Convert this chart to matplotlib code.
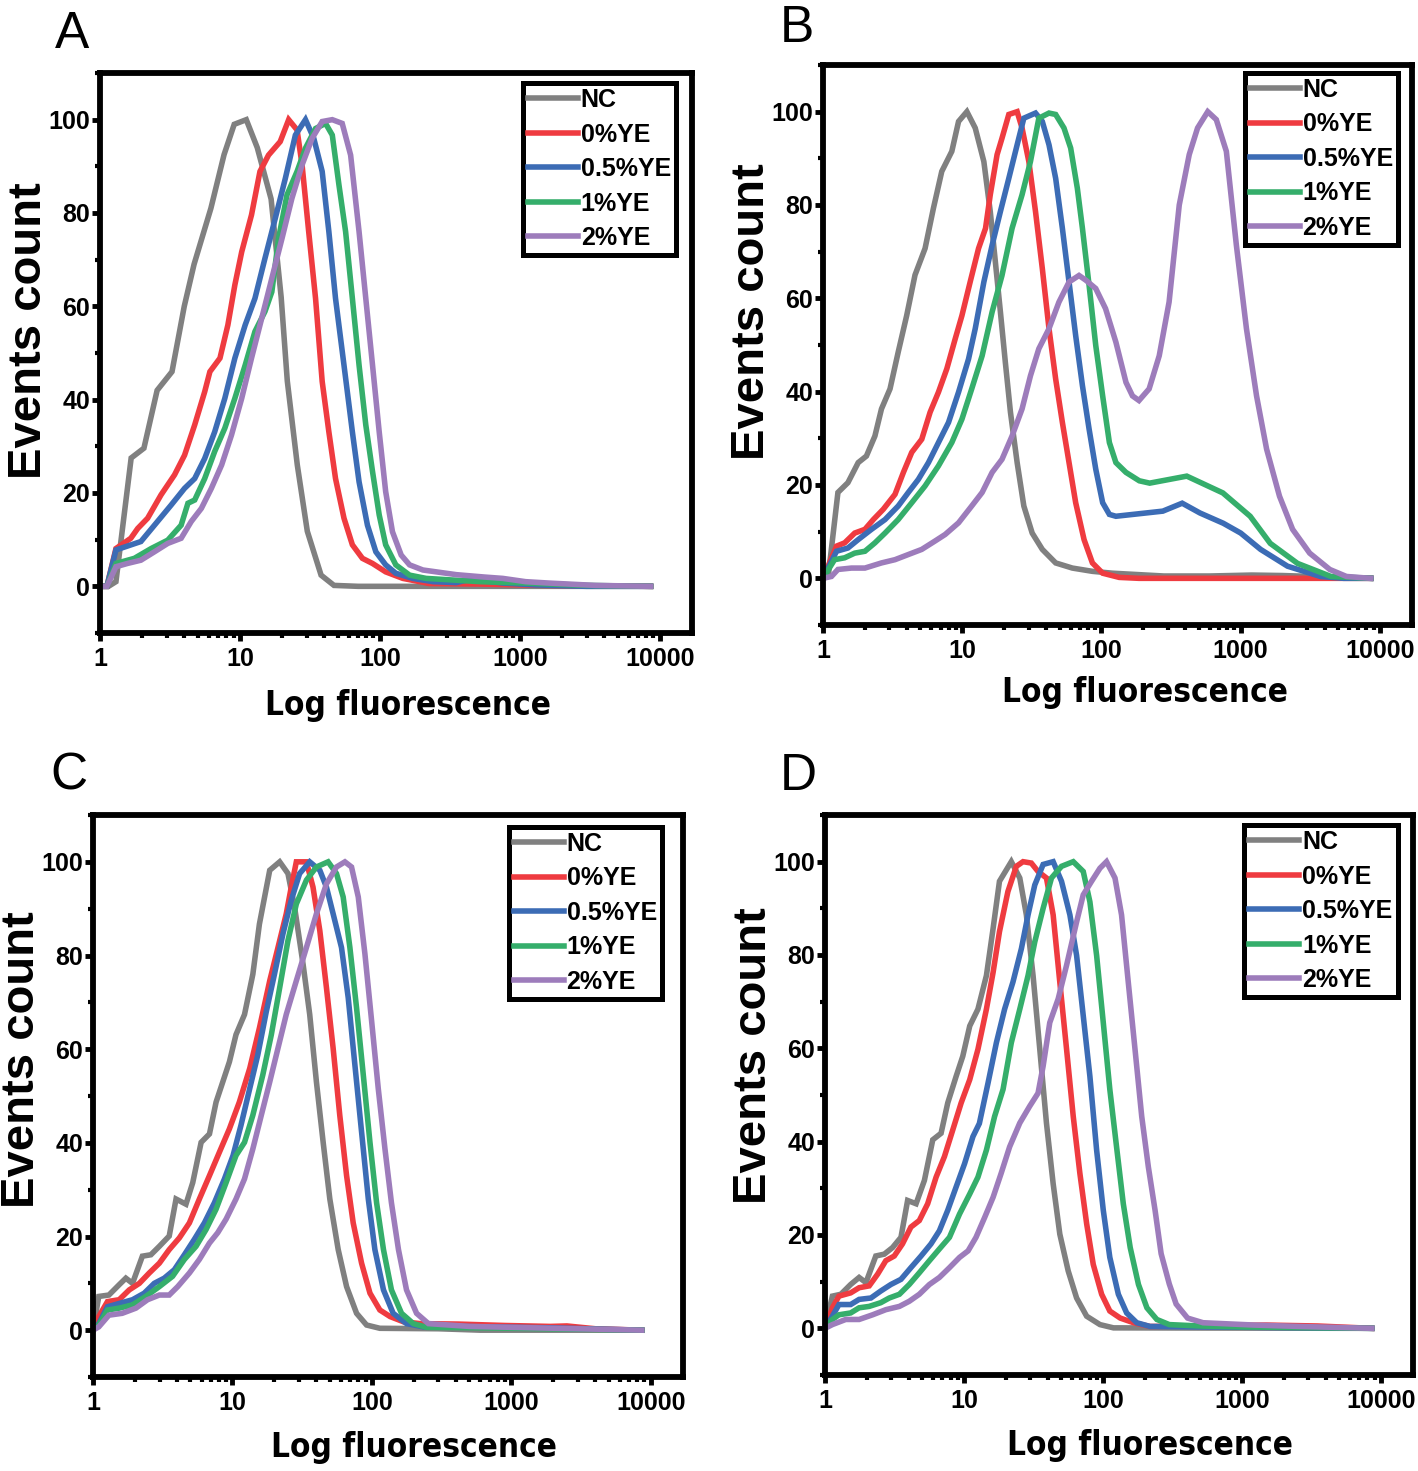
import matplotlib
matplotlib.use("Agg")
import matplotlib.pyplot as plt
from matplotlib import font_manager
from matplotlib.font_manager import FontProperties
from matplotlib.ticker import LogLocator, MultipleLocator, NullFormatter

SANS = "Liberation Sans"

# look for a narrow bold face for the x label, else use the normal bold one
narrow = None
for f in font_manager.fontManager.ttflist:
    cond = ("Narrow" in f.name or "Condensed" in f.name
            or f.stretch in ("condensed", "semi-condensed", "extra-condensed"))
    if cond and f.weight in (700, "bold") and f.style == "normal":
        if narrow is None or "Liberation" in f.name:
            narrow = f.fname

labels = ["NC", "0%YE", "0.5%YE", "1%YE", "2%YE"]
colors = ["#808080", "#EF3B40", "#3C6CB5", "#35AE6B", "#9D7CBB"]

xticks = [1, 10, 100, 1000, 10000]
xticklabels = ["1", "10", "100", "1000", "10000"]
yticks = [0, 20, 40, 60, 80, 100]

# ---- panel A ----
a_nc_x = [1, 1.15, 1.3, 1.67, 2.06, 2.56, 3.27, 4.0, 4.7, 6.2, 7.7, 9.1, 11.1, 13.3, 16.7, 19.7, 21.8, 25.7, 30.3, 38, 47, 70, 8600]
a_nc_y = [0, 0, 1, 27.5, 29.6, 42, 46, 60, 69, 81, 92.5, 99, 100, 94, 83, 62, 44, 26, 11.8, 2.4, 0.2, 0, 0]
a_0_x = [1, 1.12, 1.3, 1.66, 1.86, 2.19, 2.73, 3.41, 4.02, 4.75, 5.6, 6.1, 7.2, 8.2, 9.2, 10.3, 12.1, 13.9, 16, 19.4, 22.3, 25.6, 27.8, 31, 34.7, 38.7, 43.2, 48.2, 55.4, 63.6, 75, 88.6, 110, 146, 225, 500, 1500, 8600]
a_0_y = [0, 0, 8.1, 10.3, 12.4, 14.6, 19.6, 23.9, 28.1, 34.6, 41.7, 46, 48.9, 56, 64.6, 71.7, 79.6, 88.9, 92.4, 95.3, 100, 97.8, 90.3, 76, 61.7, 43.9, 33.1, 23.1, 14.6, 8.9, 6, 4.9, 3.1, 1.7, 0.6, 0.5, 0.2, 0]
a_05_x = [1, 1.12, 1.3, 1.96, 2.45, 3.22, 4.02, 4.75, 5.6, 6.6, 7.8, 9.2, 10.9, 12.8, 15.1, 17.9, 21.1, 24.9, 29.4, 33.7, 38.7, 43.2, 48.2, 55.4, 63.6, 71, 81.5, 93.6, 110, 130, 172, 240, 352, 441, 760, 1300, 3000, 8600]
a_05_y = [0, 0, 7.8, 9.6, 13.1, 17.4, 21, 23.1, 27.4, 33.1, 40.3, 48.9, 56, 61.7, 70.3, 78.9, 87.4, 96.7, 100, 96, 88.9, 76, 61.7, 47.4, 33.1, 22.4, 13.1, 7.4, 4.6, 2.8, 1.7, 1, 0.8, 1.5, 0.7, 0.3, 0, 0]
a_1_x = [1, 1.12, 1.3, 1.76, 2.32, 3.05, 3.8, 4.25, 4.75, 5.6, 6.6, 7.8, 9.2, 10.9, 12.8, 15.1, 16.9, 18.9, 21.7, 25.6, 29.4, 34.7, 40.9, 45.7, 51, 56.9, 63.6, 71, 79.3, 88.6, 98.9, 110, 130, 163, 214, 518, 1100, 3000, 8600]
a_1_y = [0, 0, 4.9, 6, 8.1, 9.9, 13.1, 17.8, 18.5, 23.1, 28.9, 33.9, 40.3, 47.4, 54.6, 58.9, 63.1, 74.6, 83.9, 88.9, 93.9, 98.1, 99.2, 96.7, 86, 76, 61.7, 47.4, 34.6, 24.6, 15.3, 8.9, 4.6, 2.4, 1.7, 1, 0.7, 0.2, 0]
a_2_x = [1, 1.12, 1.3, 1.57, 1.96, 2.45, 3.05, 3.8, 4.49, 5.3, 6.25, 7.4, 8.7, 10.3, 12.1, 14.3, 16.9, 20, 23.5, 27.8, 32.8, 38.7, 45.7, 53.8, 61.8, 71, 79.3, 88.6, 98.9, 110, 123, 142, 163, 203, 253, 352, 554, 756, 1100, 1615, 3470, 8600]
a_2_y = [0, 0, 4.2, 4.9, 5.6, 7.4, 9.2, 10.3, 13.9, 16.7, 21, 26, 32.4, 40.3, 48.9, 57.4, 66, 74.6, 83.1, 90.3, 96, 99.6, 100, 99.2, 92.4, 76, 61.7, 47.4, 33.1, 20.3, 11.7, 6.7, 4.6, 3.5, 3.1, 2.5, 2, 1.7, 1, 0.7, 0.2, 0]

# ---- panel B ----
b_nc_x = [1, 1.09, 1.28, 1.51, 1.79, 2.05, 2.36, 2.63, 3.03, 3.47, 3.99, 4.58, 5.41, 6.21, 7.13, 8.42, 9.41, 10.8, 12.4, 14.3, 15.9, 17.3, 18.8, 20.4, 22.2, 24.8, 27.7, 31.8, 37.6, 46.9, 61.8, 86.1, 120, 280, 600, 1200, 2000, 8600]
b_nc_y = [0, 0.4, 18.4, 20.5, 24.8, 26.2, 30.5, 36.3, 40.6, 48.5, 56.3, 65, 70.7, 79.3, 87.2, 91.5, 97.9, 100, 96.5, 89.3, 78.6, 67.8, 57.1, 46.3, 35.6, 24.8, 15.5, 9.7, 6.2, 3.3, 2.2, 1.5, 1.1, 0.5, 0.5, 0.7, 0.6, 0]
b_0_x = [1, 1.25, 1.43, 1.69, 2.0, 2.3, 2.71, 3.29, 3.78, 4.34, 5.12, 5.88, 6.75, 7.75, 8.9, 9.95, 11.4, 13.1, 14.7, 15.9, 17.8, 19.3, 21.6, 24.8, 26.9, 30.1, 33.6, 37.6, 42, 46.9, 52.4, 58.5, 65.3, 75, 86.1, 102, 134, 186, 8600]
b_0_y = [0, 6.9, 7.6, 9.7, 10.5, 12.6, 14.8, 18, 22.7, 27, 29.8, 35.6, 39.9, 44.9, 51.3, 56.3, 63.5, 70.7, 75, 82.2, 90.8, 94.3, 99.4, 100, 96.5, 89.3, 78.6, 66.4, 53.5, 42.7, 33.4, 24.8, 16.2, 8.3, 3.3, 1.1, 0.2, 0, 0]
b_05_x = [1, 1.25, 1.51, 1.79, 2.23, 2.79, 3.47, 4.1, 4.84, 5.72, 6.75, 7.97, 9.41, 11.1, 12.4, 14.3, 16.4, 18.8, 21.6, 24.8, 27.7, 33.6, 37.6, 42, 46.9, 52.4, 58.5, 65.3, 73, 81.5, 91, 102, 114, 127, 276, 380, 510, 750, 1000, 1390, 2170, 3740, 5500, 8600]
b_05_y = [0, 5.8, 6.5, 8.3, 10.5, 12.6, 15.5, 18.4, 21.2, 24.8, 29.1, 33.4, 39.9, 47, 53.5, 63.5, 71.4, 78.6, 85.7, 92.9, 98.6, 99.7, 97.9, 92.9, 85.7, 75, 63.5, 52, 41.3, 32, 23.4, 16.2, 13.7, 13.3, 14.4, 16.1, 14, 11.8, 9.7, 6.2, 2.6, 0.4, 0, 0]
b_1_x = [1, 1.21, 1.43, 1.69, 2.0, 2.36, 2.79, 3.47, 4.34, 5.41, 6.75, 8.42, 9.95, 11.7, 13.9, 16.4, 19.3, 22.8, 26.9, 30.9, 35.5, 42, 46.9, 53.8, 60.1, 67.1, 73, 81.5, 91, 102, 114, 127, 150, 187, 222, 410, 745, 1170, 1630, 2560, 4450, 8600]
b_1_y = [0, 4, 4.4, 5.4, 5.8, 7.6, 9.7, 12.6, 16.2, 19.8, 24.1, 29.1, 34.1, 40.6, 47.7, 57.1, 64.9, 75, 82.2, 89.3, 98.6, 99.7, 99.4, 96.5, 92.2, 83.6, 75, 62.8, 49.9, 39.1, 29.1, 24.8, 22.7, 20.9, 20.4, 21.9, 18.3, 13.3, 7.5, 3.2, 0.4, 0]
b_2_x = [1, 1.15, 1.28, 1.6, 2.0, 2.63, 3.29, 4.1, 5.12, 6.38, 7.54, 9.41, 11.7, 13.9, 16.4, 19.3, 22.8, 26.9, 30.9, 35.5, 42, 49.5, 58.5, 69, 77.1, 91, 107, 127, 150, 167, 186, 220, 260, 306, 362, 427, 490, 580, 668, 789, 931, 1100, 1300, 1535, 1900, 2360, 3130, 4365, 5750, 8600]
b_2_y = [0, 0.4, 1.9, 2.2, 2.2, 3.3, 4, 5.1, 6.2, 8, 9.4, 11.9, 15.5, 18.4, 22.7, 25.5, 30.5, 36.3, 43.4, 49.2, 53.5, 59.2, 63.5, 64.9, 63.9, 62.1, 57.8, 50.6, 42, 39.1, 38.1, 40.6, 47.7, 59.2, 80, 90.8, 96.5, 100, 98.3, 91.5, 71.4, 53.5, 39.1, 27.7, 17.6, 10.5, 5.4, 1.9, 0.4, 0]

# ---- panel C ----
c_nc_x = [1, 1.1, 1.3, 1.54, 1.72, 1.92, 2.26, 2.6, 2.99, 3.52, 3.94, 4.64, 5.19, 5.96, 6.84, 7.63, 8.52, 9.51, 10.6, 12.2, 14, 15.6, 18.5, 21.8, 25, 27.9, 32.1, 35.8, 40, 44.7, 49.9, 57.3, 65.8, 77.6, 91.5, 114, 300, 600, 8600]
c_nc_y = [0, 7.2, 7.5, 9.7, 11.1, 10, 15.8, 16.1, 17.9, 20.1, 28, 26.9, 31.5, 40.1, 41.9, 48.7, 53, 57.3, 63.1, 67.4, 76, 86.7, 98.2, 100, 97.5, 90.3, 78.1, 67.4, 53, 40.1, 28, 17.2, 9.3, 3.6, 1.1, 0.4, 0.3, 0, 0]
c_0_x = [1, 1.1, 1.27, 1.54, 1.82, 2.15, 2.53, 2.99, 3.52, 4.16, 4.91, 5.79, 6.84, 8.06, 9.51, 11.2, 13.3, 15.6, 18.5, 21.2, 24.3, 26.4, 28.7, 33.9, 37.8, 42.3, 47.2, 52.7, 58.8, 65.8, 73.4, 84.3, 96.8, 114, 135, 168, 221, 418, 900, 1900, 2500, 4000, 8600]
c_0_y = [0, 2.9, 6.1, 6.5, 8.6, 10, 12.2, 14.3, 17.2, 19.7, 22.9, 28, 33, 38, 43, 48.7, 55.9, 64.5, 74.6, 81.7, 88.9, 94.6, 100, 100, 94.6, 85.3, 73.1, 60.2, 45.9, 33, 22.9, 14.3, 7.9, 4.3, 2.9, 1.8, 1.4, 1.3, 1, 0.8, 0.9, 0.3, 0]
c_05_x = [1, 1.1, 1.27, 1.54, 1.92, 2.33, 2.75, 3.24, 3.83, 4.52, 5.33, 6.29, 7.42, 8.76, 10.1, 11.5, 13.3, 15.2, 17.5, 20, 23, 26.4, 30.3, 35.8, 42.3, 47.2, 52.7, 60.5, 67.6, 75.5, 84.3, 94.2, 105, 121, 142, 177, 234, 418, 1900, 8600]
c_05_y = [0, 1.4, 5, 5.7, 6.5, 7.9, 10, 11.1, 12.9, 16.1, 19.4, 22.9, 27.2, 32.3, 37.3, 43.7, 51.6, 58.8, 68.1, 76, 84.6, 91.8, 97.5, 100, 98.2, 94.6, 88.9, 81.7, 71, 56.6, 42.3, 28, 17.2, 8.6, 3.6, 1.4, 0.7, 0.8, 0.5, 0]
c_1_x = [1, 1.1, 1.27, 1.54, 1.92, 2.39, 2.99, 3.72, 4.52, 5.48, 6.47, 7.62, 9.0, 10.6, 12.2, 14, 16.5, 19, 21.8, 25, 28.7, 33.9, 40, 48.5, 55.7, 62.2, 69.5, 77.6, 86.7, 96.8, 108, 121, 138, 163, 198, 247, 600, 8600]
c_1_y = [0, 1.1, 4.3, 4.7, 5.4, 7.2, 9.3, 11.5, 15.1, 17.9, 21.5, 25.8, 31.5, 37.3, 40.1, 45.9, 54.5, 63.1, 73.1, 83.2, 91, 96.1, 98.9, 100, 97.5, 92.5, 81.7, 68.8, 54.5, 40.1, 27.2, 17.2, 8.6, 3.6, 1.4, 0.6, 0.5, 0]
c_2_x = [1, 1.1, 1.3, 1.62, 2.03, 2.46, 2.99, 3.52, 4.05, 4.91, 5.79, 6.84, 7.84, 9.0, 10.6, 12.2, 14, 16.1, 18.5, 21.2, 24.3, 28.7, 33.9, 40, 47.2, 55.7, 64, 71.4, 79.8, 89.1, 99.5, 111, 124, 138, 155, 177, 209, 254, 500, 8600]
c_2_y = [0, 0.7, 3.2, 3.6, 4.7, 6.5, 7.5, 7.5, 9.3, 12.2, 15.1, 18.6, 20.8, 23.7, 28, 32.3, 38.7, 45.9, 53, 60.2, 67.4, 74.6, 81.7, 88.9, 95.3, 98.9, 100, 98.9, 92.5, 80.3, 66, 51.6, 38.7, 27.2, 17.2, 8.6, 3.6, 1.4, 0.8, 0]

# ---- panel D ----
d_nc_x = [1, 1.13, 1.3, 1.53, 1.76, 1.97, 2.32, 2.67, 3.06, 3.52, 3.93, 4.52, 5.19, 5.96, 6.84, 7.64, 8.78, 9.8, 11, 12.6, 14.5, 16.2, 18, 21.9, 25.2, 28.1, 31.4, 35.1, 39.2, 43.8, 48.9, 56.2, 64.6, 76.3, 95.1, 119, 8600]
d_nc_y = [0, 6.9, 7.3, 9.4, 10.9, 9.8, 15.5, 15.9, 17.3, 19.5, 27.4, 26.7, 31.7, 40.4, 41.8, 48.3, 54, 58.3, 64.8, 68.4, 75.6, 85.7, 95.8, 100, 96.5, 88.6, 75.6, 59.8, 44, 31, 20.2, 12.3, 6.5, 2.6, 0.8, 0.1, 0]
d_0_x = [1, 1.13, 1.26, 1.53, 1.76, 2.08, 2.39, 2.74, 3.15, 3.61, 4.15, 4.77, 5.48, 6.3, 7.23, 8.3, 9.54, 11, 12.6, 14.5, 16.2, 18, 20.7, 23.8, 26.6, 30.5, 34.1, 39.2, 43.8, 48.9, 54.7, 61.1, 68.2, 76.3, 85.1, 97.8, 112, 133, 166, 218, 1500, 3500, 8600]
d_0_y = [0, 4.4, 6.9, 7.6, 8.7, 9.1, 11.6, 14.5, 15.5, 18.1, 21.7, 23.1, 26.7, 32.4, 36.8, 42.5, 48.3, 53.3, 59.8, 68.4, 76.3, 85, 93.6, 99, 100, 99.7, 97.9, 96.5, 88.6, 74.2, 59.8, 45.4, 33.2, 22.4, 13.7, 7.3, 3.7, 2.2, 1.2, 0.4, 0.7, 0.5, 0]
d_05_x = [1, 1.13, 1.26, 1.53, 1.76, 2.14, 2.52, 2.98, 3.52, 4.15, 4.91, 5.79, 6.65, 7.64, 8.78, 10.1, 11.6, 12.9, 14.9, 17.1, 19.6, 22.5, 25.9, 28.9, 32.3, 37.1, 43.8, 50.3, 57.8, 64.6, 72.1, 80.5, 90, 100.5, 112, 129, 148, 175, 218, 8600]
d_05_y = [0, 2.6, 5.1, 5.1, 6.2, 6.5, 8, 9.4, 10.5, 13, 15.5, 18.1, 20.9, 25.3, 30.3, 35.3, 41.1, 43.9, 52.6, 61.2, 68.4, 74.2, 81.4, 88.6, 95, 99.4, 100, 95.8, 88.6, 79.9, 67, 54, 38.2, 25.3, 15.2, 7.3, 3.3, 1.2, 0.4, 0]
d_1_x = [1, 1.13, 1.26, 1.53, 1.76, 2.08, 2.52, 2.9, 3.43, 4.04, 4.77, 5.64, 6.65, 7.86, 9.29, 11, 12.6, 14.5, 16.6, 19.1, 21.9, 25.2, 28.9, 32.3, 37.1, 42.6, 50.3, 61.1, 72.1, 80.5, 90, 100.5, 112, 126, 140, 157, 180, 207, 244, 300, 500, 1000, 8600]
d_1_y = [0, 1.9, 2.9, 3.3, 4.4, 4.7, 5.5, 6.5, 7.3, 9.4, 11.9, 14.5, 17, 19.5, 24.5, 28.8, 32.4, 38.2, 45.4, 51.2, 61.2, 68.4, 75.6, 82.8, 90, 96.5, 99, 100, 97.9, 91.4, 79.9, 65.5, 51.2, 38.2, 26.7, 17.3, 9.4, 4.4, 1.9, 0.8, 0.5, 0.3, 0]
d_2_x = [1, 1.13, 1.41, 1.76, 2.2, 2.74, 3.43, 4.04, 4.77, 5.64, 6.65, 7.86, 9.29, 10.7, 12.2, 14.1, 16.2, 18.5, 21.3, 25.2, 29.7, 34.1, 37.1, 41.4, 47.6, 54.7, 64.6, 72.1, 82.8, 95.1, 106, 122, 136, 152, 170, 190, 212, 237, 262, 300, 336, 406, 525, 1230, 2600, 8600]
d_2_y = [0, 0.8, 1.9, 1.9, 2.9, 4, 4.7, 5.8, 7.3, 9.4, 10.9, 13, 15.2, 16.6, 19.5, 23.8, 28.1, 33.2, 38.9, 44, 47.6, 50.4, 56.2, 65.5, 70.6, 77.8, 87.1, 92.9, 95.8, 98.6, 100, 96.5, 88.6, 74.2, 59.8, 45.4, 34.6, 25.3, 16, 9.5, 5.2, 2.2, 1.2, 0.7, 0.4, 0]

panels = [
    # letter, series, axes box (px), letter pos (px), legend anchor, ylabel coords, xlabel coords
    ("A", [(a_nc_x, a_nc_y), (a_0_x, a_0_y), (a_05_x, a_05_y), (a_1_x, a_1_y), (a_2_x, a_2_y)],
     [100, 633, 592, 560], (55, 48), (0.973, 0.982), (-0.12, 0.54), (0.52, -0.129)),
    ("B", [(b_nc_x, b_nc_y), (b_0_x, b_0_y), (b_05_x, b_05_y), (b_1_x, b_1_y), (b_2_x, b_2_y)],
     [823, 625, 589, 560], (780, 42), (0.976, 0.986), (-0.12, 0.56), (0.547, -0.121)),
    ("C", [(c_nc_x, c_nc_y), (c_0_x, c_0_y), (c_05_x, c_05_y), (c_1_x, c_1_y), (c_2_x, c_2_y)],
     [93, 1377, 590, 562], (50, 790), (0.964, 0.979), (-0.12, 0.564), (0.544, -0.125)),
    ("D", [(d_nc_x, d_nc_y), (d_0_x, d_0_y), (d_05_x, d_05_y), (d_1_x, d_1_y), (d_2_x, d_2_y)],
     [825, 1375, 588, 560], (780, 790), (0.974, 0.982), (-0.12, 0.571), (0.553, -0.125)),
]

W, H = 1418, 1471
fig = plt.figure(figsize=(W / 100, H / 100), dpi=100)

if narrow:
    xl_prop = FontProperties(fname=narrow, size=30)
else:
    xl_prop = FontProperties(family=SANS, weight="bold", size=30)

xlabels = []
for letter, series, rect, lpos, leg_anchor, ylc, xlc in panels:
    left, bottom, width, height = rect
    ax = fig.add_axes([left / W, 1 - bottom / H, width / W, height / H])

    for (xs, ys), lab, col in zip(series, labels, colors):
        ax.plot(xs, ys, color=col, lw=4, label=lab, solid_joinstyle="miter")

    ax.set_xscale("log")
    ax.set_xlim(1, 17000)
    ax.set_ylim(-10, 110)
    ax.set_xticks(xticks)
    ax.set_xticklabels(xticklabels)
    ax.xaxis.set_minor_locator(LogLocator(base=10, subs=range(2, 10), numticks=20))
    ax.xaxis.set_minor_formatter(NullFormatter())
    ax.set_yticks(yticks)
    ax.yaxis.set_minor_locator(MultipleLocator(10))

    for sp in ax.spines.values():
        sp.set_linewidth(4.2)
    ax.tick_params(which="major", direction="out", length=6, width=3.5, pad=1)
    ax.tick_params(axis="x", which="major", pad=4)
    ax.tick_params(which="minor", direction="out", length=3.5, width=3)
    for t in ax.get_xticklabels() + ax.get_yticklabels():
        t.set_fontfamily(SANS)
        t.set_fontweight("bold")
        t.set_fontsize(18)

    ax.set_ylabel("Events count", family=SANS, weight="bold", fontsize=34, va="center")
    ax.yaxis.set_label_coords(*ylc)
    ax.set_xlabel("Log fluorescence", fontproperties=xl_prop, va="center")
    ax.xaxis.set_label_coords(*xlc)
    xlabels.append(ax.xaxis.label)

    leg = ax.legend(loc="upper right", bbox_to_anchor=leg_anchor, borderaxespad=0,
                    prop={"family": SANS, "weight": "bold", "size": 18},
                    handlelength=2.0, handletextpad=0.12, borderpad=0.2,
                    labelspacing=0.42, fancybox=False, framealpha=1)
    leg.get_frame().set_edgecolor("black")
    leg.get_frame().set_linewidth(3.6)
    for h in leg.get_lines():
        h.set_linewidth(4)

    fig.text(lpos[0] / W, 1 - lpos[1] / H, letter, family=SANS, fontsize=37,
             ha="left", va="baseline")

# fit the x label to the width it has in the figure (about 285 px)
fig.canvas.draw()
r = fig.canvas.get_renderer()
for t in xlabels:
    w = t.get_window_extent(r).width
    t.set_fontsize(t.get_fontsize() * 285.0 / w)

fig.savefig("out.png", dpi=100)
